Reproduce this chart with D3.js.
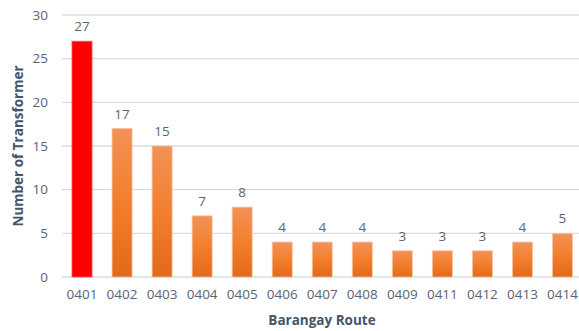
<!DOCTYPE html>
<html><head><meta charset="utf-8">
<script src="https://cdn.jsdelivr.net/npm/d3@7"></script>
<style>body{margin:0;background:#fff}svg{display:block}text{font-family:"Open Sans",sans-serif}</style>
</head><body><svg id="c" width="579" height="331"></svg>
<script>
const categories = ["0401","0402","0403","0404","0405","0406","0407","0408","0409","0411","0412","0413","0414"];
const values = [27,17,15,7,8,4,4,4,3,3,3,4,5];
const yTicks = [0,5,10,15,20,25,30];
const highlight = "0401";

const svg = d3.select("#c");
const mLeft = 62, mRight = 582.5, mTop = 15, mBottom = 277;
const x = d3.scaleBand().domain(categories).range([mLeft, mRight]).paddingInner(0.5).paddingOuter(0.25);
const y = d3.scaleLinear().domain([0,30]).range([mBottom, mTop]);

const defs = svg.append("defs");
const g = defs.append("linearGradient").attr("id","og").attr("x1",0).attr("y1",0).attr("x2",0).attr("y2",1);
g.append("stop").attr("offset","0%").attr("stop-color","#F29257");
g.append("stop").attr("offset","50%").attr("stop-color","#F27F2E");
g.append("stop").attr("offset","100%").attr("stop-color","#E2691A");

// gridlines
svg.append("g").selectAll("line").data(yTicks).join("line")
  .attr("x1", mLeft).attr("x2", 579).attr("y1", d=>y(d)).attr("y2", d=>y(d))
  .attr("stroke","#D9DDE3").attr("stroke-width",1.3);

// y axis labels
const ya = svg.append("g").attr("transform",`translate(${mLeft-14},0)`)
  .call(d3.axisLeft(y).tickValues(yTicks).tickSize(0).tickPadding(0));
ya.select(".domain").remove();
ya.selectAll("text").attr("font-size",13.5).attr("fill","#5B6373").style("font-family","'Open Sans',sans-serif");

// x axis labels
const xa = svg.append("g").attr("transform",`translate(0,${mBottom+12})`)
  .call(d3.axisBottom(x).tickSize(0).tickPadding(0));
xa.select(".domain").remove();
xa.selectAll("text").attr("font-size",13.5).attr("fill","#5B6373").style("font-family","'Open Sans',sans-serif");

// bars
svg.append("g").selectAll("rect").data(categories).join("rect")
  .attr("x", d=>x(d)).attr("width", x.bandwidth())
  .attr("y", (d,i)=>y(values[i])).attr("height",(d,i)=>y(0)-y(values[i]))
  .attr("fill", d=> d===highlight ? "#FF0000" : "url(#og)")
  .attr("stroke", d=> d===highlight ? "#FF5050" : "#F8C4A0").attr("stroke-width",0.8);

// value labels
svg.append("g").selectAll("text").data(categories).join("text")
  .attr("x", d=>x(d)+x.bandwidth()/2).attr("y",(d,i)=>y(values[i])-10)
  .attr("text-anchor","middle").attr("font-size",13.5).attr("fill","#5B6373")
  .text((d,i)=>values[i]);

// axis titles
svg.append("text").attr("x",322).attr("y",325).attr("text-anchor","middle")
  .attr("font-size",13.5).attr("font-weight","bold").attr("fill","#44546A").text("Barangay Route");
svg.append("text").attr("transform","translate(23,146) rotate(-90)").attr("text-anchor","middle")
  .attr("font-size",13.5).attr("font-weight","bold").attr("fill","#44546A").text("Number of Transformer");
</script></body></html>
